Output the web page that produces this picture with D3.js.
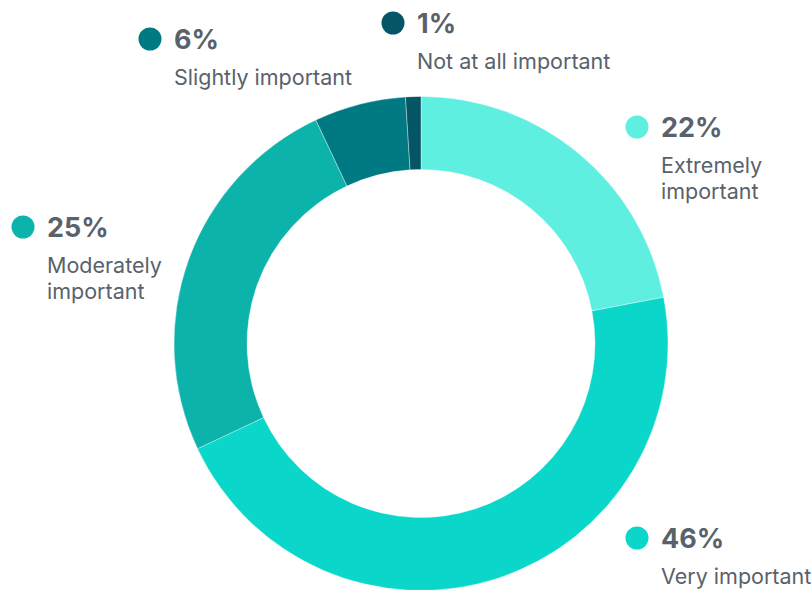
<!DOCTYPE html>
<html>
<head>
<meta charset="utf-8">
<script src="https://cdn.jsdelivr.net/npm/d3@7/dist/d3.min.js"></script>
<style>
  html, body { margin: 0; padding: 0; background: #ffffff; }
  svg { display: block; font-family: Inter, "Noto Sans", sans-serif; }
</style>
</head>
<body>
<svg id="chart" width="812" height="590"></svg>
<script>
// Survey answers, in drawing order (clockwise from 12 o'clock)
const categories = ["Extremely important", "Very important", "Moderately important", "Slightly important", "Not at all important"];
const values = [22, 46, 25, 6, 1];
const colors = ["#5eefe1", "#0ad6c9", "#0bb3aa", "#007a82", "#045566"];

// Label block layout: dot centre, and the label lines wrapped by hand
const labelLines = [["Extremely", "important"], ["Very important"], ["Moderately", "important"], ["Slightly important"], ["Not at all important"]];
const labelAnchors = [[637, 127], [637, 538], [23, 227], [150, 39], [393, 23]];

const svg = d3.select("#chart");
const cx = 421, cy = 343.5, outerR = 247, innerR = 174;

const pie = d3.pie().sort(null).value(d => d)(values);
const arc = d3.arc().innerRadius(innerR).outerRadius(outerR);

const g = svg.append("g").attr("transform", `translate(${cx},${cy})`);
g.selectAll("path")
  .data(pie)
  .join("path")
  .attr("d", arc)
  .attr("fill", (d, i) => colors[i])
  .attr("stroke", "#ffffff")
  .attr("stroke-opacity", 0.6)
  .attr("stroke-width", 0.6);

const textColor = "#59626b";
const labels = svg.selectAll("g.label")
  .data(categories)
  .join("g")
  .attr("class", "label")
  .attr("transform", (d, i) => `translate(${labelAnchors[i][0]},${labelAnchors[i][1]})`);

labels.append("circle")
  .attr("r", 11.5)
  .attr("fill", (d, i) => colors[i]);

labels.append("text")
  .attr("x", 24)
  .attr("y", 10)
  .attr("fill", textColor)
  .attr("font-size", 27)
  .attr("font-weight", 700)
  .text((d, i) => values[i] + "%");

labels.each(function(d, i) {
  const t = d3.select(this).append("text")
    .attr("x", 24)
    .attr("fill", textColor)
    .attr("font-size", 21.5)
    .attr("font-weight", 400);
  labelLines[i].forEach((line, k) => {
    t.append("tspan").attr("x", 24).attr("y", 46 + k * 26).text(line);
  });
});
</script>
</body>
</html>
